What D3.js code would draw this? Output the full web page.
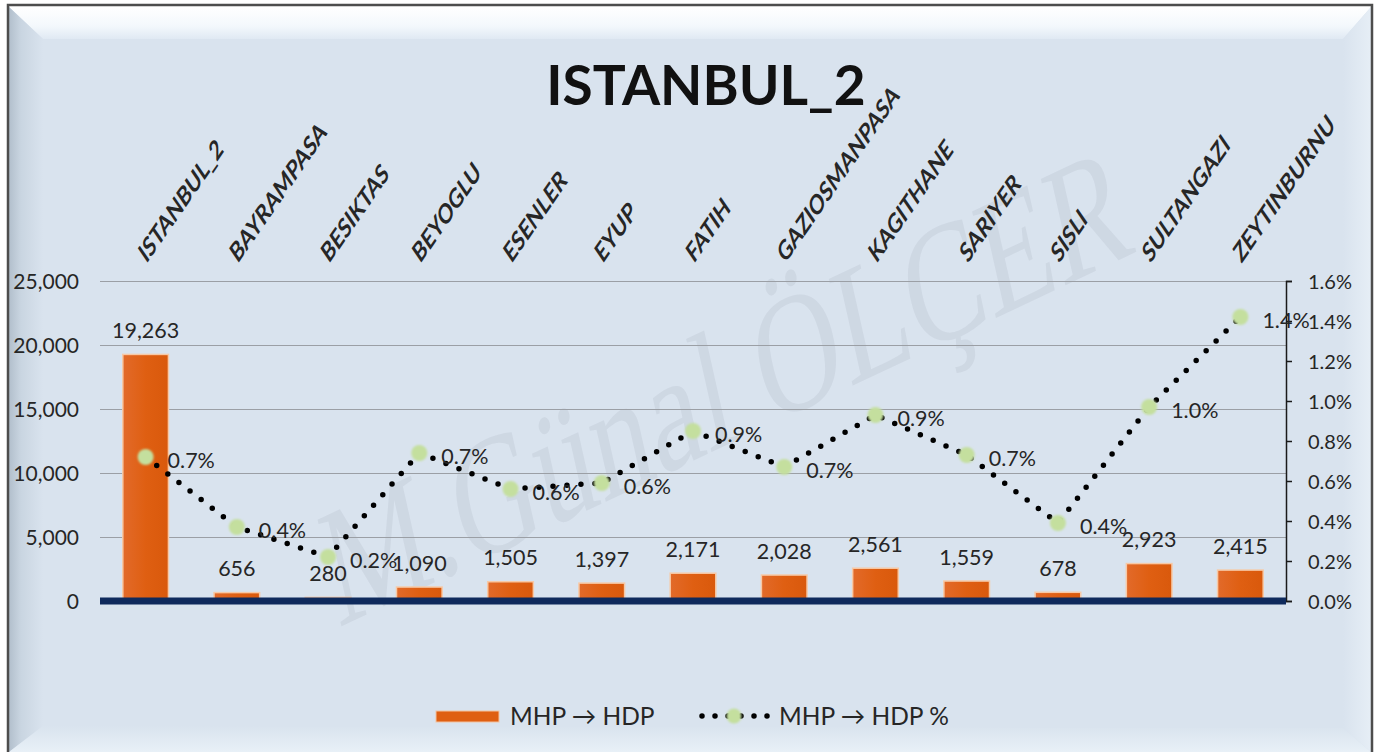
<!DOCTYPE html>
<html>
<head>
<meta charset="utf-8">
<script src="https://cdn.jsdelivr.net/npm/d3@7"></script>
<style>
  html, body { margin: 0; padding: 0; background: #ffffff; }
  svg { display: block; }
  text { font-family: Lato, "Open Sans", sans-serif; fill: #262626; }
</style>
</head>
<body>
<svg id="chart" width="1382" height="752"></svg>
<script>
// ---- data ----
const categories = ["ISTANBUL_2","BAYRAMPASA","BESIKTAS","BEYOGLU","ESENLER","EYUP","FATIH","GAZIOSMANPASA","KAGITHANE","SARIYER","SISLI","SULTANGAZI","ZEYTINBURNU"];
const mhpToHdp = [19263, 656, 280, 1090, 1505, 1397, 2171, 2028, 2561, 1559, 678, 2923, 2415];
const mhpToHdpPct = [0.0072, 0.0037, 0.0022, 0.0074, 0.0056, 0.0059, 0.0085, 0.0067, 0.0093, 0.0073, 0.0039, 0.0097, 0.0142];
const leftTicks = [0, 5000, 10000, 15000, 20000, 25000];
const rightTicks = [0, 0.002, 0.004, 0.006, 0.008, 0.010, 0.012, 0.014, 0.016];
const titleText = "ISTANBUL_2";
const seriesNames = ["MHP \u2192 HDP", "MHP \u2192 HDP %"];
const watermark = "M.G\u00fcnal \u00d6L\u00c7ER";

const svg = d3.select("#chart");
const defs = svg.append("defs");

// ---- background frame with bevel ----
const gTop = defs.append("linearGradient").attr("id","gTop").attr("x1",0).attr("y1",0).attr("x2",0).attr("y2",1);
gTop.append("stop").attr("offset","0%").attr("stop-color","#ffffff");
gTop.append("stop").attr("offset","60%").attr("stop-color","#f3f8fc");
gTop.append("stop").attr("offset","100%").attr("stop-color","#e0e9f3");
const gLeft = defs.append("linearGradient").attr("id","gLeft").attr("x1",0).attr("y1",0).attr("x2",1).attr("y2",0);
gLeft.append("stop").attr("offset","0%").attr("stop-color","#b2bfcc");
gLeft.append("stop").attr("offset","35%").attr("stop-color","#c9d5e1");
gLeft.append("stop").attr("offset","100%").attr("stop-color","#d9e3ee");
const gRight = defs.append("linearGradient").attr("id","gRight").attr("x1",0).attr("y1",0).attr("x2",1).attr("y2",0);
gRight.append("stop").attr("offset","0%").attr("stop-color","#d9e3ee");
gRight.append("stop").attr("offset","100%").attr("stop-color","#e6eef6");
const gBot = defs.append("linearGradient").attr("id","gBot").attr("x1",0).attr("y1",0).attr("x2",0).attr("y2",1);
gBot.append("stop").attr("offset","0%").attr("stop-color","#d9e3ee");
gBot.append("stop").attr("offset","100%").attr("stop-color","#e8f0f7");

const L = 9, T = 7, R = 1371, B = 752;
svg.append("rect").attr("x",L).attr("y",T).attr("width",R-L).attr("height",B-T).attr("fill","#d9e3ee");
svg.append("polygon").attr("points",`${L},${T} ${R},${T} ${R-28},${T+32} ${L+34},${T+32}`).attr("fill","url(#gTop)");
svg.append("polygon").attr("points",`${L},${T} ${L+34},${T+32} ${L+34},${B-26} ${L},${B}`).attr("fill","url(#gLeft)");
svg.append("polygon").attr("points",`${R},${T} ${R-28},${T+32} ${R-28},${B-24} ${R},${B}`).attr("fill","url(#gRight)");
svg.append("polygon").attr("points",`${L+34},${B-26} ${R-28},${B-24} ${R},${B} ${L},${B}`).attr("fill","url(#gBot)");
svg.append("path").attr("d",`M${L-1},${B} V${T-2} H${R+1} V${B}`).attr("fill","none").attr("stroke","#4d4d4d").attr("stroke-width",2.5);

// ---- scales ----
const x = d3.scaleBand().domain(categories).range([100, 1286]).paddingInner(0.5).paddingOuter(0.25);
const cx = c => x(c) + x.bandwidth() / 2;
const yL = d3.scaleLinear().domain([0, 25000]).range([601, 281]);
const yR = d3.scaleLinear().domain([0, 0.016]).range([601, 281]);

// ---- watermark ----
svg.append("g").attr("transform","translate(725,385) scale(1,1.45) rotate(-18)")
  .append("text").text(watermark)
  .attr("text-anchor","middle").attr("dominant-baseline","central")
  .style("font-family","'Liberation Serif', 'DejaVu Serif', serif")
  .style("font-size","118px").style("fill","#8f96a0").style("fill-opacity",0.14);

// ---- gridlines ----
svg.append("g").attr("transform","translate(100,0)")
  .call(d3.axisLeft(yL).tickValues(leftTicks).tickSize(-1186).tickFormat(""))
  .call(g => g.select(".domain").remove())
  .call(g => g.selectAll("line").attr("stroke","#9b9fa5").attr("stroke-width",1.2));

// ---- left axis labels ----
svg.append("g").attr("transform","translate(100,0)")
  .call(d3.axisLeft(yL).tickValues(leftTicks).tickFormat(d3.format(",")).tickSize(0).tickPadding(21))
  .call(g => g.select(".domain").remove())
  .call(g => g.selectAll("text").style("font-size","21px").style("font-family","Lato, sans-serif").attr("fill","#262626").attr("dy","0.35em"));

// ---- right axis ----
svg.append("g").attr("transform","translate(1286,0)")
  .call(d3.axisRight(yR).tickValues(rightTicks).tickFormat(d3.format(".1%")).tickSize(6).tickPadding(16))
  .call(g => g.select(".domain").attr("stroke","#1a1a1a").attr("stroke-width",1.5))
  .call(g => g.selectAll("line").attr("stroke","#1a1a1a").attr("stroke-width",1.5))
  .call(g => g.selectAll("text").style("font-size","20px").style("font-family","Lato, sans-serif").attr("fill","#262626").attr("dy","0.35em"));

// ---- bars ----
const gBar = defs.append("linearGradient").attr("id","gBar").attr("x1",0).attr("y1",0).attr("x2",1).attr("y2",0);
gBar.append("stop").attr("offset","0%").attr("stop-color","#e26a2a");
gBar.append("stop").attr("offset","50%").attr("stop-color","#df5f12");
gBar.append("stop").attr("offset","100%").attr("stop-color","#d9590c");

svg.append("g").selectAll("rect").data(categories).join("rect")
  .attr("x", c => x(c))
  .attr("width", x.bandwidth())
  .attr("y", (c,i) => yL(mhpToHdp[i]))
  .attr("height", (c,i) => yL(0) - yL(mhpToHdp[i]))
  .attr("fill","url(#gBar)")
  .attr("stroke","#f7c9a6").attr("stroke-width",1.5);

// baseline
svg.append("line").attr("x1",100).attr("x2",1286).attr("y1",yL(0)).attr("y2",yL(0))
  .attr("stroke","#0f2a5c").attr("stroke-width",7);

// bar labels
svg.append("g").selectAll("text").data(categories).join("text")
  .attr("x", c => cx(c))
  .attr("y", (c,i) => yL(mhpToHdp[i]) - 24)
  .attr("text-anchor","middle").attr("dy","0.35em")
  .style("font-size","21.5px")
  .text((c,i) => d3.format(",")(mhpToHdp[i]));

// ---- line series ----
const line = d3.line().x((d,i) => cx(categories[i])).y(d => yR(d));
svg.append("path").datum(mhpToHdpPct)
  .attr("d", line).attr("fill","none")
  .attr("stroke","#000").attr("stroke-width",5.5)
  .attr("stroke-linecap","round").attr("stroke-dasharray","0 14");

const blur = defs.append("filter").attr("id","soft").attr("x","-50%").attr("y","-50%").attr("width","200%").attr("height","200%");
blur.append("feGaussianBlur").attr("stdDeviation",0.9);

svg.append("g").selectAll("circle").data(mhpToHdpPct).join("circle")
  .attr("cx",(d,i) => cx(categories[i])).attr("cy", d => yR(d))
  .attr("r",8).attr("fill","#c4df9e").attr("filter","url(#soft)");

svg.append("g").selectAll("text").data(mhpToHdpPct).join("text")
  .attr("x",(d,i) => cx(categories[i]) + 22)
  .attr("y", d => yR(d) + 3)
  .attr("dy","0.35em")
  .style("font-size","21.5px")
  .text(d => d3.format(".1%")(d));

// ---- category labels (top) ----
svg.append("g").selectAll("g").data(categories).join("g")
  .attr("transform", c => `translate(${cx(c) + 1},264) scale(1,1.45) rotate(-45)`)
  .append("text")
  .attr("text-anchor","start")
  .style("font-size","19px").style("font-weight","bold")
  .text(c => c);

// ---- title ----
svg.append("text").attr("x",706).attr("y",105).attr("text-anchor","middle")
  .style("font-size","55px").style("font-weight","bold").style("fill","#111")
  .text(titleText);

// ---- legend ----
const lg = svg.append("g");
lg.append("rect").attr("x",436).attr("y",711).attr("width",63).attr("height",11)
  .attr("fill","#df5f12").attr("stroke","#f3c3a0").attr("stroke-width",1);
lg.append("text").attr("x",510).attr("y",716).attr("dy","0.35em").style("font-size","24.5px").text(seriesNames[0]);
lg.append("path").attr("d","M702,716 H768").attr("stroke","#000").attr("stroke-width",5.5)
  .attr("stroke-linecap","round").attr("stroke-dasharray","0 13");
lg.append("circle").attr("cx",734).attr("cy",716).attr("r",7.5).attr("fill","#c4df9e").attr("filter","url(#soft)");
lg.append("text").attr("x",779).attr("y",716).attr("dy","0.35em").style("font-size","24.5px").text(seriesNames[1]);
</script>
</body>
</html>
